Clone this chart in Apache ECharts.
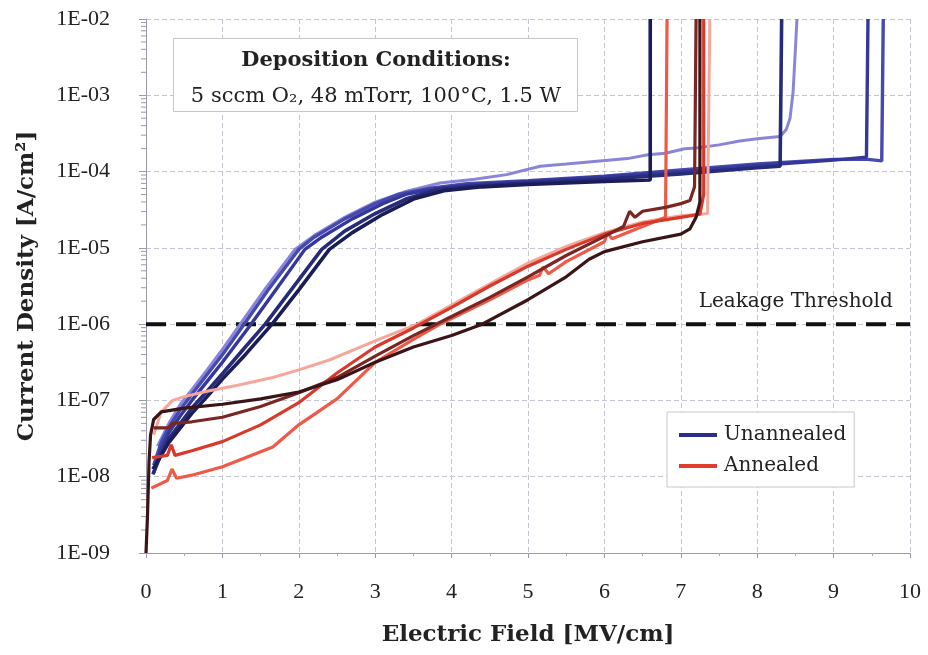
<!DOCTYPE html>
<html>
<head>
<meta charset="utf-8">
<script src="https://cdn.jsdelivr.net/npm/echarts@6/dist/echarts.min.js"></script>
<style>
  html, body { margin: 0; padding: 0; background: #fff; }
  #chart { width: 928px; height: 655px; }
</style>
</head>
<body>
<div id="chart"></div>
<script>
// J–E sweeps: each point is [electric field (MV/cm), log10 current density (A/cm^2)]
const unannealedA = [[0.09,-7.9],[0.2,-7.72],[0.3,-7.55],[0.45,-7.36],[0.6,-7.17],[0.8,-6.95],[1.0,-6.72],[1.3,-6.4],[1.65,-6.0],[2.0,-5.55],[2.4,-5.02],[2.7,-4.8],[3.1,-4.56],[3.5,-4.36],[3.9,-4.25],[4.4,-4.2],[5.0,-4.17],[6.0,-4.13],[6.6,-4.11],[6.6,-2.0]];
const unannealedB = [[0.09,-7.97],[0.2,-7.7],[0.3,-7.5],[0.45,-7.3],[0.6,-7.1],[0.8,-6.88],[1.0,-6.65],[1.3,-6.3],[1.56,-6.0],[1.9,-5.55],[2.3,-5.02],[2.6,-4.78],[3.0,-4.55],[3.4,-4.36],[3.8,-4.24],[4.3,-4.19],[5.0,-4.15],[6.0,-4.1],[7.0,-4.03],[8.0,-3.95],[8.3,-3.93],[8.32,-2.0]];
const unannealedC = [[0.1,-7.95],[0.2,-7.62],[0.3,-7.42],[0.45,-7.2],[0.6,-7.0],[0.8,-6.75],[1.0,-6.5],[1.36,-6.02],[1.7,-5.55],[2.08,-5.02],[2.3,-4.86],[2.7,-4.62],[3.1,-4.42],[3.4,-4.3],[3.8,-4.22],[4.3,-4.17],[5.0,-4.13],[6.0,-4.07],[7.0,-4.0],[8.0,-3.92],[9.0,-3.85],[9.43,-3.81],[9.45,-2.0]];
const unannealedD = [[0.1,-7.85],[0.2,-7.55],[0.3,-7.35],[0.45,-7.12],[0.6,-6.92],[0.8,-6.66],[1.0,-6.4],[1.27,-6.02],[1.6,-5.55],[2.0,-5.02],[2.2,-4.86],[2.6,-4.62],[3.0,-4.42],[3.3,-4.3],[3.7,-4.22],[4.2,-4.16],[5.0,-4.12],[6.0,-4.06],[7.0,-3.98],[8.0,-3.9],[9.0,-3.84],[9.45,-3.84],[9.63,-3.86],[9.65,-2.0]];
const unannealedE = [[0.15,-7.6],[0.3,-7.3],[0.45,-7.05],[0.6,-6.86],[0.8,-6.6],[1.0,-6.33],[1.22,-6.02],[1.55,-5.55],[1.95,-5.02],[2.2,-4.84],[2.6,-4.6],[3.0,-4.4],[3.4,-4.26],[3.85,-4.15],[4.3,-4.1],[4.72,-4.04],[5.16,-3.93],[5.5,-3.9],[5.94,-3.86],[6.3,-3.83],[6.57,-3.78],[6.8,-3.76],[7.05,-3.7],[7.2,-3.69],[7.5,-3.65],[7.77,-3.6],[8.0,-3.57],[8.3,-3.54],[8.38,-3.45],[8.43,-3.3],[8.47,-2.95],[8.5,-2.4],[8.52,-2.0]];

const annealedA = [[0.0,-9.0],[0.02,-8.5],[0.04,-7.8],[0.06,-7.45],[0.1,-7.25],[0.2,-7.15],[0.5,-7.1],[1.0,-7.05],[1.5,-6.98],[2.0,-6.89],[2.5,-6.73],[3.0,-6.5],[3.5,-6.3],[4.0,-6.15],[4.4,-6.0],[5.0,-5.68],[5.5,-5.38],[5.8,-5.15],[6.0,-5.05],[6.5,-4.92],[7.0,-4.82],[7.12,-4.75],[7.2,-4.6],[7.25,-4.4],[7.25,-2.0]];
const annealedB = [[0.1,-7.36],[0.3,-7.36],[0.35,-7.3],[0.6,-7.28],[1.0,-7.22],[1.5,-7.08],[2.0,-6.9],[2.5,-6.7],[3.0,-6.42],[3.5,-6.15],[4.0,-5.9],[4.5,-5.65],[5.0,-5.38],[5.5,-5.1],[6.0,-4.85],[6.25,-4.72],[6.33,-4.52],[6.4,-4.6],[6.5,-4.52],[6.8,-4.47],[7.0,-4.42],[7.12,-4.38],[7.18,-4.2],[7.2,-2.0]];
const annealedC = [[0.08,-7.75],[0.28,-7.72],[0.33,-7.58],[0.38,-7.72],[0.6,-7.66],[1.0,-7.54],[1.5,-7.32],[2.0,-7.03],[2.5,-6.64],[3.0,-6.3],[3.5,-6.05],[4.0,-5.78],[4.5,-5.5],[5.0,-5.24],[5.5,-5.02],[6.0,-4.82],[6.5,-4.68],[7.0,-4.6],[7.25,-4.56],[7.3,-4.3],[7.3,-2.0]];
const annealedD = [[0.07,-8.15],[0.28,-8.05],[0.34,-7.9],[0.4,-8.02],[0.6,-7.98],[1.0,-7.87],[1.66,-7.61],[2.0,-7.32],[2.5,-6.98],[3.0,-6.5],[3.5,-6.2],[3.85,-6.0],[4.5,-5.68],[5.0,-5.42],[5.15,-5.36],[5.2,-5.25],[5.27,-5.34],[5.5,-5.18],[6.0,-4.92],[6.04,-4.8],[6.1,-4.88],[6.5,-4.72],[6.8,-4.6],[6.82,-2.0]];
const annealedE = [[0.1,-7.45],[0.2,-7.15],[0.35,-7.0],[0.5,-6.95],[0.8,-6.88],[1.2,-6.8],[1.66,-6.7],[2.0,-6.6],[2.4,-6.47],[3.0,-6.22],[3.55,-6.0],[4.0,-5.75],[4.5,-5.47],[5.0,-5.2],[5.5,-4.98],[6.0,-4.8],[6.5,-4.66],[7.0,-4.58],[7.35,-4.55],[7.38,-2.0]];

const leakageThreshold = 1e-6;
const fieldTicks = [0, 1, 2, 3, 4, 5, 6, 7, 8, 9, 10];
const densityDecades = [-9, -8, -7, -6, -5, -4, -3, -2];

const NUM_FONT = '"Liberation Serif", "DejaVu Serif", serif';
const TEXT_FONT = '"DejaVu Serif", "Liberation Serif", serif';
const NAVY = '#2b2f8c';
const RED = '#e03c2c';

const toPoints = curve => curve.map(p => [p[0], Math.pow(10, p[1])]);

// minor ticks at 2..9 × 10^k for the log axis
const minorTicks = [];
densityDecades.slice(0, -1).forEach(k => {
  for (let m = 2; m <= 9; m++) minorTicks.push(m * Math.pow(10, k));
});

function curve(name, data, color, width) {
  return {
    name: name, type: 'line', data: toPoints(data),
    showSymbol: false, symbol: 'none', smooth: false,
    lineStyle: { color: color, width: width },
    itemStyle: { color: color },
    z: 3
  };
}

const series = [
  curve('Unannealed', unannealedE, '#8985d8', 3),
  curve('Unannealed', unannealedD, '#4649ad', 3.4),
  curve('Unannealed', unannealedC, '#35389a', 3.4),
  curve('Unannealed', unannealedB, '#272b78', 3.6),
  curve('Unannealed', unannealedA, '#1b1d58', 3.6),
  curve('Annealed', annealedE, '#f6a79b', 3),
  curve('Annealed', annealedD, '#ee5a48', 3.2),
  curve('Annealed', annealedC, '#d8392a', 3.2),
  curve('Annealed', annealedB, '#7a2622', 3.2),
  curve('Annealed', annealedA, '#3a1416', 3.2),
  {
    name: 'threshold', type: 'line',
    data: [[fieldTicks[0], leakageThreshold], [fieldTicks[fieldTicks.length - 1], leakageThreshold]],
    showSymbol: false, symbol: 'none',
    lineStyle: { color: '#111', width: 4, type: [20, 10] },
    z: 2,
    markPoint: {
      symbol: 'circle', symbolSize: 0,
      data: [{ coord: [9.84, leakageThreshold] }],
      label: {
        show: true, formatter: 'Leakage Threshold', position: 'left',
        offset: [0, -22], color: '#222', fontFamily: TEXT_FONT, fontSize: 20
      }
    }
  },
  {
    name: 'minorTicks', type: 'custom', silent: true, clip: false,
    data: minorTicks.map(v => [0, v]),
    renderItem: (params, api) => {
      const p = api.coord([api.value(0), api.value(1)]);
      return { type: 'line', shape: { x1: p[0] - 5, y1: p[1], x2: p[0], y2: p[1] },
               style: { stroke: '#9a9aa8', lineWidth: 1 } };
    },
    z: 1
  }
];

const chart = echarts.init(document.getElementById('chart'), null, { renderer: 'canvas' });
chart.setOption({
  animation: false,
  backgroundColor: '#fff',
  grid: { left: 146, right: 18, top: 19, bottom: 102 },
  xAxis: {
    type: 'value', min: fieldTicks[0], max: fieldTicks[fieldTicks.length - 1], interval: 1,
    name: 'Electric Field [MV/cm]', nameLocation: 'middle', nameGap: 71,
    nameTextStyle: { fontFamily: TEXT_FONT, fontSize: 23, fontWeight: 'bold', color: '#222' },
    axisLine: { lineStyle: { color: '#9a9aa8', width: 1 } },
    axisTick: { lineStyle: { color: '#9a9aa8' }, length: 5 },
    minorTick: { show: true, splitNumber: 2, length: 3, lineStyle: { color: '#aaa' } },
    axisLabel: { fontFamily: NUM_FONT, fontSize: 22, color: '#222', margin: 28 },
    splitLine: { show: true, lineStyle: { color: '#c4c6d2', width: 1, type: [5, 3] } }
  },
  yAxis: {
    type: 'log', logBase: 10, min: Math.pow(10, densityDecades[0]),
    max: Math.pow(10, densityDecades[densityDecades.length - 1]), splitNumber: 7,
    name: 'Current Density [A/cm²]', nameLocation: 'middle', nameGap: 107,
    nameTextStyle: { fontFamily: TEXT_FONT, fontSize: 23, fontWeight: 'bold', color: '#222' },
    axisLine: { show: true, lineStyle: { color: '#9a9aa8', width: 1 } },
    axisTick: { show: true, lineStyle: { color: '#9a9aa8' }, length: 7 },
    axisLabel: {
      fontFamily: NUM_FONT, fontSize: 22, color: '#222', margin: 36,
      formatter: v => {
        const e = Math.round(Math.log10(v));
        return '1E-' + String(-e).padStart(2, '0');
      }
    },
    splitLine: { show: true, lineStyle: { color: '#c4c6d2', width: 1, type: [5, 3] } }
  },
  legend: {
    orient: 'vertical', left: 667, top: 412,
    padding: [13, 8, 11, 12],
    itemGap: 11, itemWidth: 38, itemHeight: 4, icon: 'rect',
    backgroundColor: '#fff', borderColor: '#c8c8cc', borderWidth: 1,
    textStyle: { fontFamily: TEXT_FONT, fontSize: 20, color: '#222', width: 134, padding: [0, 0, 0, 2] },
    data: [
      { name: 'Unannealed', itemStyle: { color: NAVY } },
      { name: 'Annealed', itemStyle: { color: RED } }
    ]
  },
  graphic: [
    { type: 'rect', left: 173, top: 38, z: 100, shape: { width: 404, height: 73 },
      style: { fill: '#fff', stroke: '#c8c8cc', lineWidth: 1 } },
    { type: 'text', x: 376, y: 61, z: 101,
      style: { text: 'Deposition Conditions:', font: 'bold 21px ' + TEXT_FONT,
               fill: '#222', align: 'center', verticalAlign: 'middle' } },
    { type: 'text', x: 376, y: 97, z: 101,
      style: { text: '5 sccm O₂, 48 mTorr, 100°C, 1.5 W', font: '21px ' + TEXT_FONT,
               fill: '#222', align: 'center', verticalAlign: 'middle' } }
  ],
  series: series
});
</script>
</body>
</html>
